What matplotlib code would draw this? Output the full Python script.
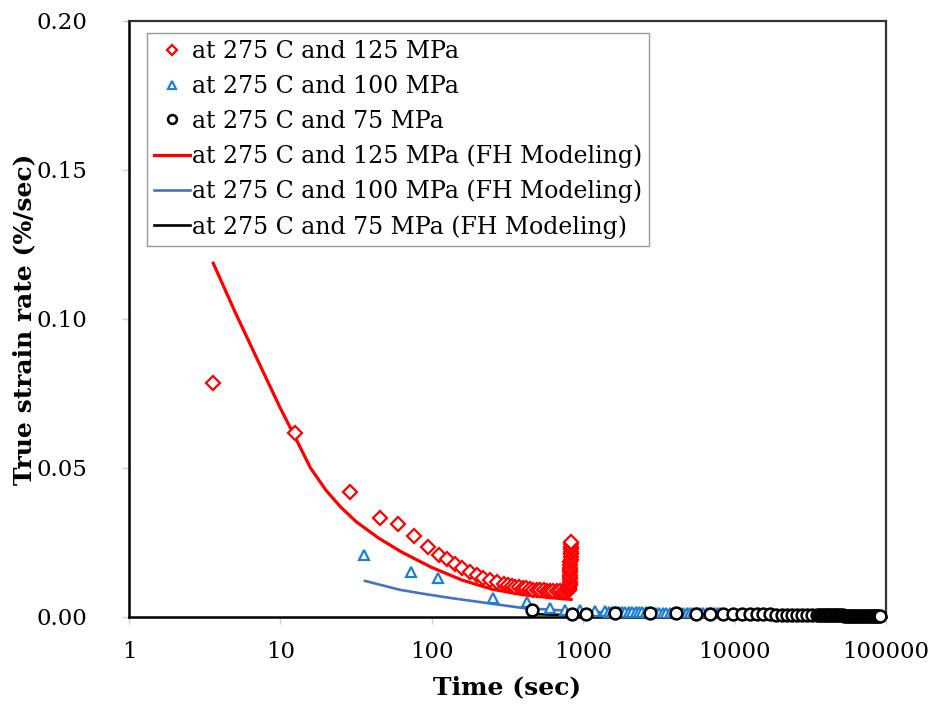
import matplotlib
matplotlib.use("Agg")
import matplotlib.pyplot as plt

# --- data ----------------------------------------------------------------- #
# 275 C / 125 MPa, experiment
red_t = [3.59, 12.5, 28.8, 45.5, 59.8, 76.3, 94.4, 111.7, 126, 142, 158, 179,
         199, 218, 242, 270, 300, 318, 337, 356, 376, 398, 420, 444, 468, 494,
         520, 548, 577, 606, 636, 668, 700, 732, 764, 795,
         805, 808, 810, 812, 813, 815, 816, 818, 819, 820, 821, 822, 823, 824,
         825, 826, 826, 827, 828, 829, 830, 831]
red_y = [0.0785, 0.0617, 0.0419, 0.0332, 0.0312, 0.0272, 0.0235, 0.0208,
         0.0195, 0.0178, 0.0164, 0.0151, 0.0141, 0.0131, 0.0124, 0.0117,
         0.0112, 0.0108, 0.0105, 0.0102, 0.0100, 0.0098, 0.0096, 0.0094,
         0.0092, 0.0091, 0.0090, 0.0089, 0.0088, 0.0087, 0.0087, 0.0086,
         0.0086, 0.0085, 0.0085, 0.0086,
         0.0090, 0.0095, 0.0100, 0.0106, 0.0112, 0.0119, 0.0126, 0.0134,
         0.0142, 0.0150, 0.0158, 0.0166, 0.0174, 0.0183, 0.0192, 0.0201,
         0.0210, 0.0219, 0.0228, 0.0236, 0.0244, 0.0251]

# 275 C / 100 MPa, experiment
blue_t = [35.7, 72.9, 110, 254, 424, 604, 759, 952, 1197, 1393,
          1470, 1550, 1630, 1720, 1810, 1900, 2000, 2110, 2220, 2340, 2460,
          2590, 2730, 2870, 3020, 3180, 3350, 3530, 3720, 3910, 4120, 4340,
          4570, 4810, 5060, 5330, 5610, 5910, 6220, 6550, 6900, 7260, 7650,
          8050, 8450]
blue_y = [0.0208, 0.0151, 0.0131, 0.0064, 0.0051, 0.0029, 0.0023, 0.0022,
          0.0020, 0.0019,
          0.0018, 0.0018, 0.0018, 0.0017, 0.0017, 0.0017, 0.0017, 0.0016,
          0.0016, 0.0016, 0.0016, 0.0016, 0.0015, 0.0015, 0.0015, 0.0015,
          0.0015, 0.0014, 0.0014, 0.0014, 0.0014, 0.0014, 0.0014, 0.0013,
          0.0013, 0.0013, 0.0013, 0.0013, 0.0013, 0.0012, 0.0012, 0.0012,
          0.0012, 0.0012, 0.0011]

# 275 C / 75 MPa, experiment
black_t = [457, 839, 1044, 1633, 2761, 4105, 5565, 6826, 8380, 9770, 11200,
           12650, 14060, 15410, 17140, 18760, 20460, 22080, 23820, 25700,
           27730, 29920, 32280, 34830,
           36000, 37100, 38200, 39300, 40500, 41600, 42800, 44000, 45200,
           46400, 47700, 49000, 50300, 51600, 53000, 54400, 55800, 57300,
           58800, 60300, 61900, 63500, 65100, 66800, 68500, 70200, 72000,
           73800, 75700, 77600, 79500, 81500, 83500, 85500, 87600, 89700, 91500]
black_y = [0.0024, 0.0010, 0.0010, 0.0012, 0.0012, 0.0012, 0.0011, 0.0011,
           0.0011, 0.0010, 0.0010, 0.0010, 0.0009, 0.0009, 0.0009, 0.0008,
           0.0008, 0.0008, 0.0008, 0.0007, 0.0007, 0.0007, 0.0007, 0.0006,
           0.0006, 0.0006, 0.0006, 0.0006, 0.0006, 0.0005, 0.0005, 0.0005,
           0.0005, 0.0005, 0.0005, 0.0005, 0.0005, 0.0005, 0.0004, 0.0004,
           0.0004, 0.0004, 0.0004, 0.0004, 0.0004, 0.0004, 0.0004, 0.0004,
           0.0004, 0.0004, 0.0004, 0.0003, 0.0003, 0.0003, 0.0003, 0.0003,
           0.0003, 0.0003, 0.0003, 0.0003, 0.0003]

# FH modeling curves
red_fit_t = [3.6, 5.0, 7.1, 10, 12.6, 15.8, 20, 25.1, 31.6, 44.7, 63.1, 100,
             158, 251, 398, 631, 832]
red_fit_y = [0.1187, 0.1025, 0.0860, 0.0700, 0.0600, 0.0500, 0.0425, 0.0368,
             0.0320, 0.0264, 0.0218, 0.0166, 0.0124, 0.0093, 0.0075, 0.0064,
             0.0059]
blue_fit_t = [36.2, 61.7, 90, 132, 400, 1000, 3000, 8000]
blue_fit_y = [0.0121, 0.0091, 0.0077, 0.0064, 0.0030, 0.0018, 0.0012, 0.0009]
black_fit_t = [450, 600, 900]
black_fit_y = [0.0010, 0.0008, 0.0006]

labels = ["at 275 C and 125 MPa", "at 275 C and 100 MPa", "at 275 C and 75 MPa",
          "at 275 C and 125 MPa (FH Modeling)",
          "at 275 C and 100 MPa (FH Modeling)",
          "at 275 C and 75 MPa (FH Modeling)"]

RED = "#ff0000"
BLUE_PT = "#1f7fd2"
BLUE_LN = "#4472c4"

plt.rcParams.update({"font.family": "DejaVu Serif", "font.size": 16.5})

fig = plt.figure(figsize=(9.37, 7.06), dpi=100)
ax = fig.add_axes([0.1377, 0.1261, 0.8079, 0.8442])

ln_r, = ax.plot(red_fit_t, red_fit_y, color=RED, lw=2.3, zorder=2)
ln_b, = ax.plot(blue_fit_t, blue_fit_y, color=BLUE_LN, lw=1.9, zorder=2)
ln_k, = ax.plot(black_fit_t, black_fit_y, color="black", lw=1.9, zorder=2)

pt_r, = ax.plot(red_t, red_y, ls="none", marker="D", ms=7, mfc="white",
                mec=RED, mew=1.6, zorder=3)
pt_b, = ax.plot(blue_t, blue_y, ls="none", marker="^", ms=7.5, mfc="white",
                mec=BLUE_PT, mew=1.6, zorder=4)
pt_k, = ax.plot(black_t, black_y, ls="none", marker="o", ms=8.5, mfc="white",
                mec="black", mew=1.8, zorder=5, clip_on=False)

ax.set_xscale("log")
ax.set_xlim(1, 100000)
ax.set_ylim(0, 0.20)
ax.set_xticks([1, 10, 100, 1000, 10000, 100000])
ax.set_xticklabels(["1", "10", "100", "1000", "10000", "100000"])
ax.xaxis.set_minor_locator(matplotlib.ticker.NullLocator())
ax.set_yticks([0, 0.05, 0.10, 0.15, 0.20])
ax.set_yticklabels(["0.00", "0.05", "0.10", "0.15", "0.20"])
ax.tick_params(axis="both", length=5, width=1, color="#d0d0d0")
ax.tick_params(axis="x", pad=12)
ax.tick_params(axis="y", pad=25)

for side in ("left", "bottom"):
    ax.spines[side].set_color("black")
    ax.spines[side].set_linewidth(1.8)
for side in ("top", "right"):
    ax.spines[side].set_color("#333333")
    ax.spines[side].set_linewidth(1.6)

ax.set_xlabel("Time (sec)", fontweight="bold", fontsize=18, labelpad=9)
ax.set_ylabel("True strain rate (%/sec)", fontweight="bold", fontsize=18,
              labelpad=0)

handles = [pt_r, pt_b, pt_k, ln_r, ln_b, ln_k]
leg = ax.legend(handles, labels, loc="upper left", bbox_to_anchor=(0.024, 0.98),
                borderaxespad=0, fancybox=False, framealpha=1, edgecolor="#9a9a9a",
                fontsize=17, handlelength=1.5, handletextpad=0.1,
                labelspacing=0.5, borderpad=0.3, numpoints=1, markerscale=0.75)
leg.get_frame().set_linewidth(1.0)

fig.savefig("out.png", dpi=100)
